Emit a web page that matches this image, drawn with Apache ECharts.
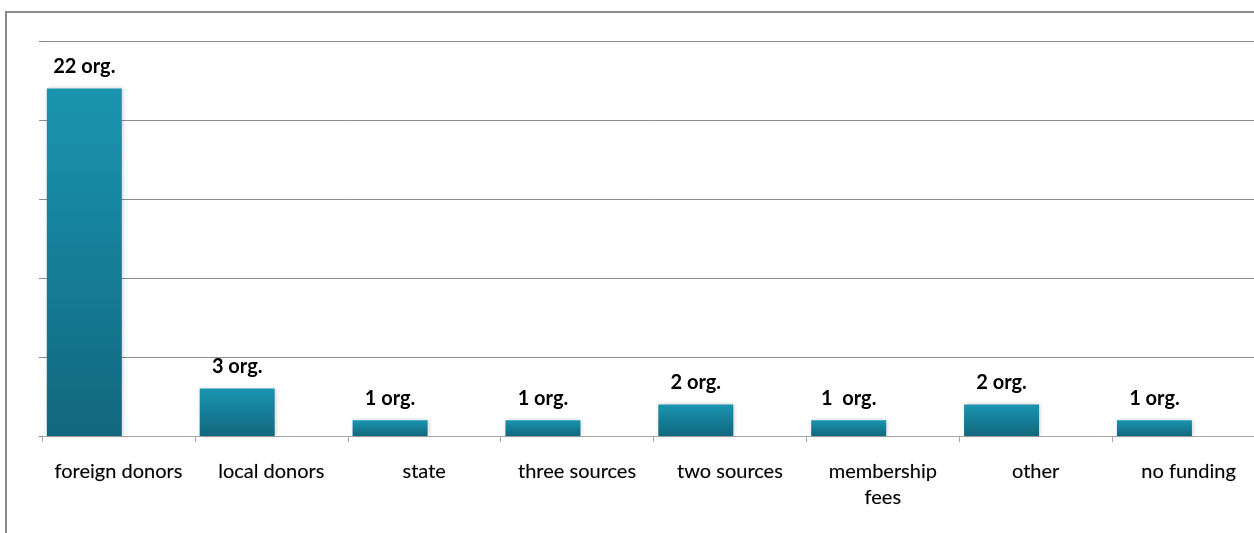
<!DOCTYPE html>
<html>
<head>
<meta charset="utf-8">
<script src="https://cdn.jsdelivr.net/npm/echarts@6/dist/echarts.min.js"></script>
<style>
  html, body { margin: 0; padding: 0; background: #fff; overflow: hidden; }
  /* the plot runs a little past the right edge of the window */
  #chart { width: 1272px; height: 533px; }
</style>
</head>
<body>
<div id="chart"></div>
<script>
// Funding sources of the surveyed organisations
const categories = ['foreign donors', 'local donors', 'state', 'three sources', 'two sources', 'membership\nfees', 'other', 'no funding'];
const orgCounts = [22, 3, 1, 1, 2, 1, 2, 1];
// spacing between the number and "org." in each value label
const labelSpacing = [' ', ' ', ' ', ' ', ' ', '  ', ' ', ' '];
const yTicks = { min: 0, max: 25, interval: 5 };

const chart = echarts.init(document.getElementById('chart'));
const fontFamily = 'Lato, "Open Sans", sans-serif';

chart.setOption({
  animation: false,
  backgroundColor: '#ffffff',
  graphic: [{
    type: 'polyline',
    shape: { points: [[6, 600], [6, 12], [1300, 12]] },
    style: { stroke: '#8a8a8a', lineWidth: 2, fill: null },
    silent: true
  }],
  grid: { left: 42, top: 41, width: 1223, height: 395, containLabel: false },
  xAxis: {
    type: 'category',
    data: categories,
    axisLine: { show: true, lineStyle: { color: '#a6a6a6', width: 1 } },
    axisTick: { show: true, length: 6, lineStyle: { color: '#a6a6a6' } },
    axisLabel: {
      color: '#000', fontFamily, fontSize: 20, margin: 23, lineHeight: 26,
      interval: 0,
      textBorderColor: 'rgba(0,0,0,0.35)', textBorderWidth: 0.4
    },
    splitLine: { show: false }
  },
  yAxis: {
    type: 'value',
    min: yTicks.min, max: yTicks.max, interval: yTicks.interval,
    axisLine: { show: false },
    axisTick: { show: true, inside: false, length: 3, lineStyle: { color: '#8a8a8a' } },
    axisLabel: { show: false },
    splitLine: { show: true, lineStyle: { color: '#8c8c8c', width: 1 } }
  },
  series: [{
    name: 'organisations',
    type: 'bar',
    data: orgCounts,
    barWidth: 75,
    barGap: '-9%',
    itemStyle: {
      color: new echarts.graphic.LinearGradient(0, 0, 0, 1, [
        { offset: 0, color: '#1a95b0' },
        { offset: 1, color: '#11677e' }
      ]),
      shadowColor: 'rgba(0,0,0,0.18)',
      shadowBlur: 4,
      shadowOffsetX: 1
    },
    label: {
      show: true,
      position: 'top',
      distance: 12,
      color: '#000',
      fontFamily,
      fontWeight: 'bold',
      fontSize: 20,
      formatter: p => p.value + labelSpacing[p.dataIndex] + 'org.'
    }
  }, {
    // empty companion series that keeps the bars in the left part of each slot
    name: 'spacer',
    type: 'bar',
    data: [],
    barWidth: 75
  }]
});
</script>
</body>
</html>
